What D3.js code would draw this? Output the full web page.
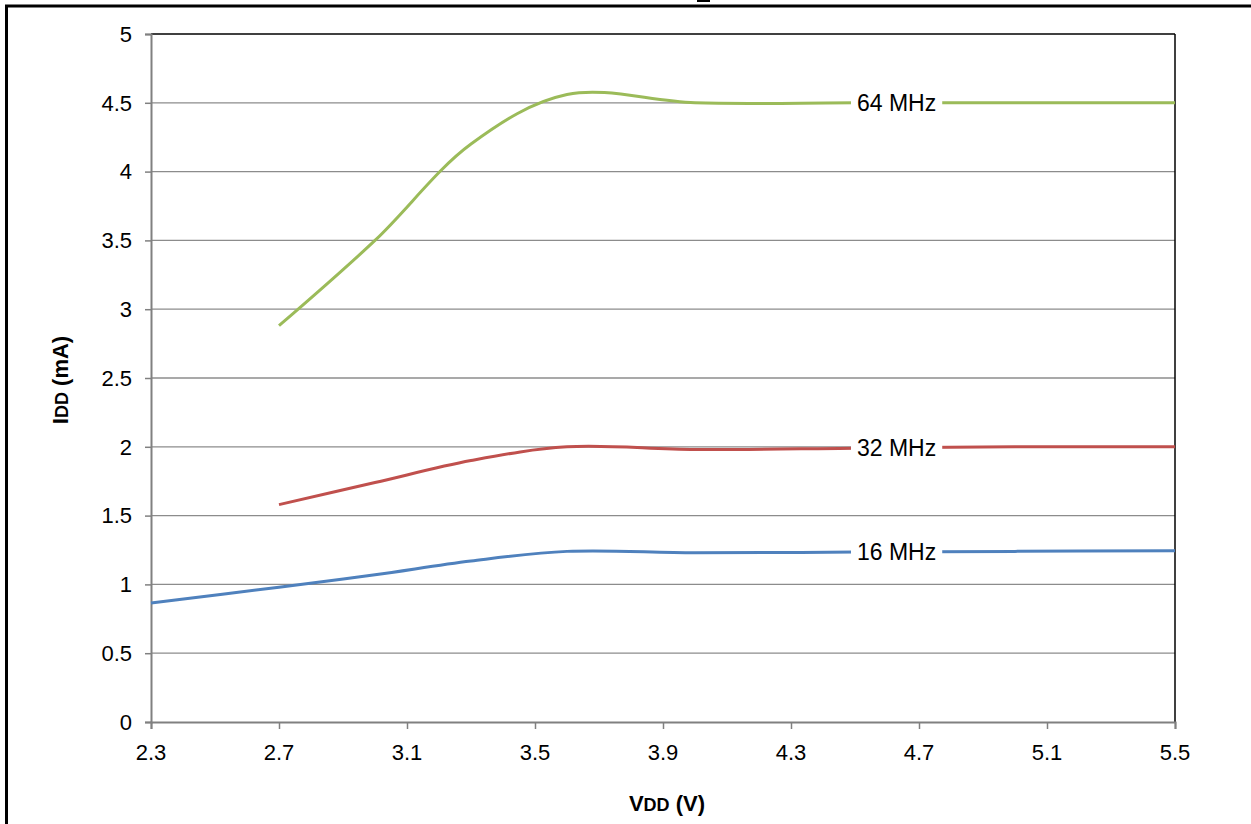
<!DOCTYPE html>
<html>
<head>
<meta charset="utf-8">
<script src="https://cdn.jsdelivr.net/npm/d3@7"></script>
<style>
html,body{margin:0;padding:0;background:#fff;}
svg{display:block;font-family:"Liberation Sans",Arial,sans-serif;}
</style>
</head>
<body>
<svg id="chart" width="1251" height="824"></svg>
<script>
// ---- data ----
const xTicks = [2.3, 2.7, 3.1, 3.5, 3.9, 4.3, 4.7, 5.1, 5.5];
const yTicks = [0, 0.5, 1, 1.5, 2, 2.5, 3, 3.5, 4, 4.5, 5];
const xTickLabels = ["2.3", "2.7", "3.1", "3.5", "3.9", "4.3", "4.7", "5.1", "5.5"];
const yTickLabels = ["0", "0.5", "1", "1.5", "2", "2.5", "3", "3.5", "4", "4.5", "5"];
const vdd64 = [2.7, 3.0, 3.3, 3.6, 4.0, 4.5, 5.0, 5.5];
const idd64 = [2.88, 3.5, 4.2, 4.56, 4.5, 4.5, 4.5, 4.5];
const vdd32 = [2.7, 3.0, 3.3, 3.6, 4.0, 4.5, 5.0, 5.5];
const idd32 = [1.58, 1.74, 1.9, 2.0, 1.98, 1.99, 2.0, 2.0];
const vdd16 = [2.3, 2.7, 3.0, 3.3, 3.6, 4.0, 4.5, 5.0, 5.5];
const idd16 = [0.865, 0.98, 1.07, 1.17, 1.24, 1.23, 1.235, 1.24, 1.245];
const seriesNames = ["64 MHz", "32 MHz", "16 MHz"];
const seriesColors = ["#9BBB59", "#C0504D", "#4F81BD"];
const labelV = 4.63;

const svg = d3.select("#chart");
const W = 1251, H = 824;

// outer frame (extends past canvas to right and bottom)
svg.append("rect").attr("x", 6.5).attr("y", 6).attr("width", W + 10).attr("height", H + 10)
  .attr("fill", "none").attr("stroke", "#000").attr("stroke-width", 3);
// remnant of cut-off title
svg.append("rect").attr("x", 697).attr("y", 0).attr("width", 13).attr("height", 2).attr("fill", "#000");

const m = {l: 151, r: 1175, t: 34, b: 722};
const x = d3.scaleLinear().domain([2.3, 5.5]).range([m.l, m.r]);
const y = d3.scaleLinear().domain([0, 5]).range([m.b, m.t]);

// grid
svg.append("g").selectAll("line").data(yTicks.filter(d => d > 0 && d < 5)).join("line")
  .attr("x1", m.l).attr("x2", m.r).attr("y1", d => y(d)).attr("y2", d => y(d))
  .attr("stroke", "#8c8c8c").attr("stroke-width", 1.3);

// plot border (top / right dark)
svg.append("line").attr("x1", m.l).attr("x2", m.r).attr("y1", m.t).attr("y2", m.t)
  .attr("stroke", "#000").attr("stroke-width", 1.5);
svg.append("line").attr("x1", m.r).attr("x2", m.r).attr("y1", m.t).attr("y2", m.b)
  .attr("stroke", "#000").attr("stroke-width", 1.5);

function styleAxis(g) {
  g.select(".domain").attr("stroke", "#808080").attr("stroke-width", 2);
  g.selectAll("line").attr("stroke", "#808080").attr("stroke-width", 1.5);
}

// axes (lines from d3 axes; labels drawn as explicit text from the scales)
const gy = svg.append("g").attr("transform", `translate(${m.l},0)`)
  .call(d3.axisLeft(y).tickValues(yTicks).tickSize(6).tickFormat(""));
styleAxis(gy);
const gx = svg.append("g").attr("transform", `translate(0,${m.b})`)
  .call(d3.axisBottom(x).tickValues(xTicks).tickSize(7).tickFormat(""));
styleAxis(gx);

svg.append("g").selectAll("text").data(yTicks).join("text")
  .attr("x", m.l - 19).attr("y", d => y(d)).attr("dy", "0.35em")
  .attr("text-anchor", "end").style("font-size", "22px").attr("fill", "#000")
  .text((d, i) => yTickLabels[i]);
svg.append("g").selectAll("text").data(xTicks).join("text")
  .attr("x", d => x(d)).attr("y", m.b + 38)
  .attr("text-anchor", "middle").style("font-size", "22px").attr("fill", "#000")
  .text((d, i) => xTickLabels[i]);

// lines
const line = d3.line().x(d => x(d[0])).y(d => y(d[1])).curve(d3.curveCatmullRom.alpha(0.5));
const data = [
  d3.zip(vdd64, idd64),
  d3.zip(vdd32, idd32),
  d3.zip(vdd16, idd16)
];
data.forEach((pts, i) => {
  svg.append("path").datum(pts).attr("d", line)
    .attr("fill", "none").attr("stroke", seriesColors[i]).attr("stroke-width", 3)
    .attr("stroke-linecap", "butt");
});

// in-line labels
const valAt = (vs, is, v) => {
  const j = d3.bisectLeft(vs, v);
  const t = (v - vs[j - 1]) / (vs[j] - vs[j - 1]);
  return is[j - 1] + t * (is[j] - is[j - 1]);
};
const series = [[vdd64, idd64], [vdd32, idd32], [vdd16, idd16]];
series.forEach((s, i) => {
  const cx = x(labelV), cy = y(valAt(s[0], s[1], labelV));
  const g = svg.append("g");
  const t = g.append("text").attr("x", cx).attr("y", cy).attr("dy", "0.35em")
    .attr("text-anchor", "middle").style("font-size", "23px").attr("fill", "#000")
    .text(seriesNames[i]);
  const bb = t.node().getBBox();
  g.insert("rect", "text").attr("x", bb.x - 6).attr("y", bb.y - 1)
    .attr("width", bb.width + 12).attr("height", bb.height + 2).attr("fill", "#fff");
});

// axis titles
const yt = svg.append("text").attr("transform", `translate(68,${(m.t + m.b) / 2 + 2}) rotate(-90)`)
  .attr("text-anchor", "middle").attr("font-weight", "bold").style("font-size", "22px").attr("fill", "#000");
yt.append("tspan").text("I");
yt.append("tspan").style("font-size", "18px").text("DD");
yt.append("tspan").text(" (mA)");

const xt = svg.append("text").attr("x", (m.l + m.r) / 2 + 4).attr("y", 811)
  .attr("text-anchor", "middle").attr("font-weight", "bold").style("font-size", "22px").attr("fill", "#000");
xt.append("tspan").text("V");
xt.append("tspan").style("font-size", "18px").text("DD");
xt.append("tspan").text(" (V)");
</script>
</body>
</html>
